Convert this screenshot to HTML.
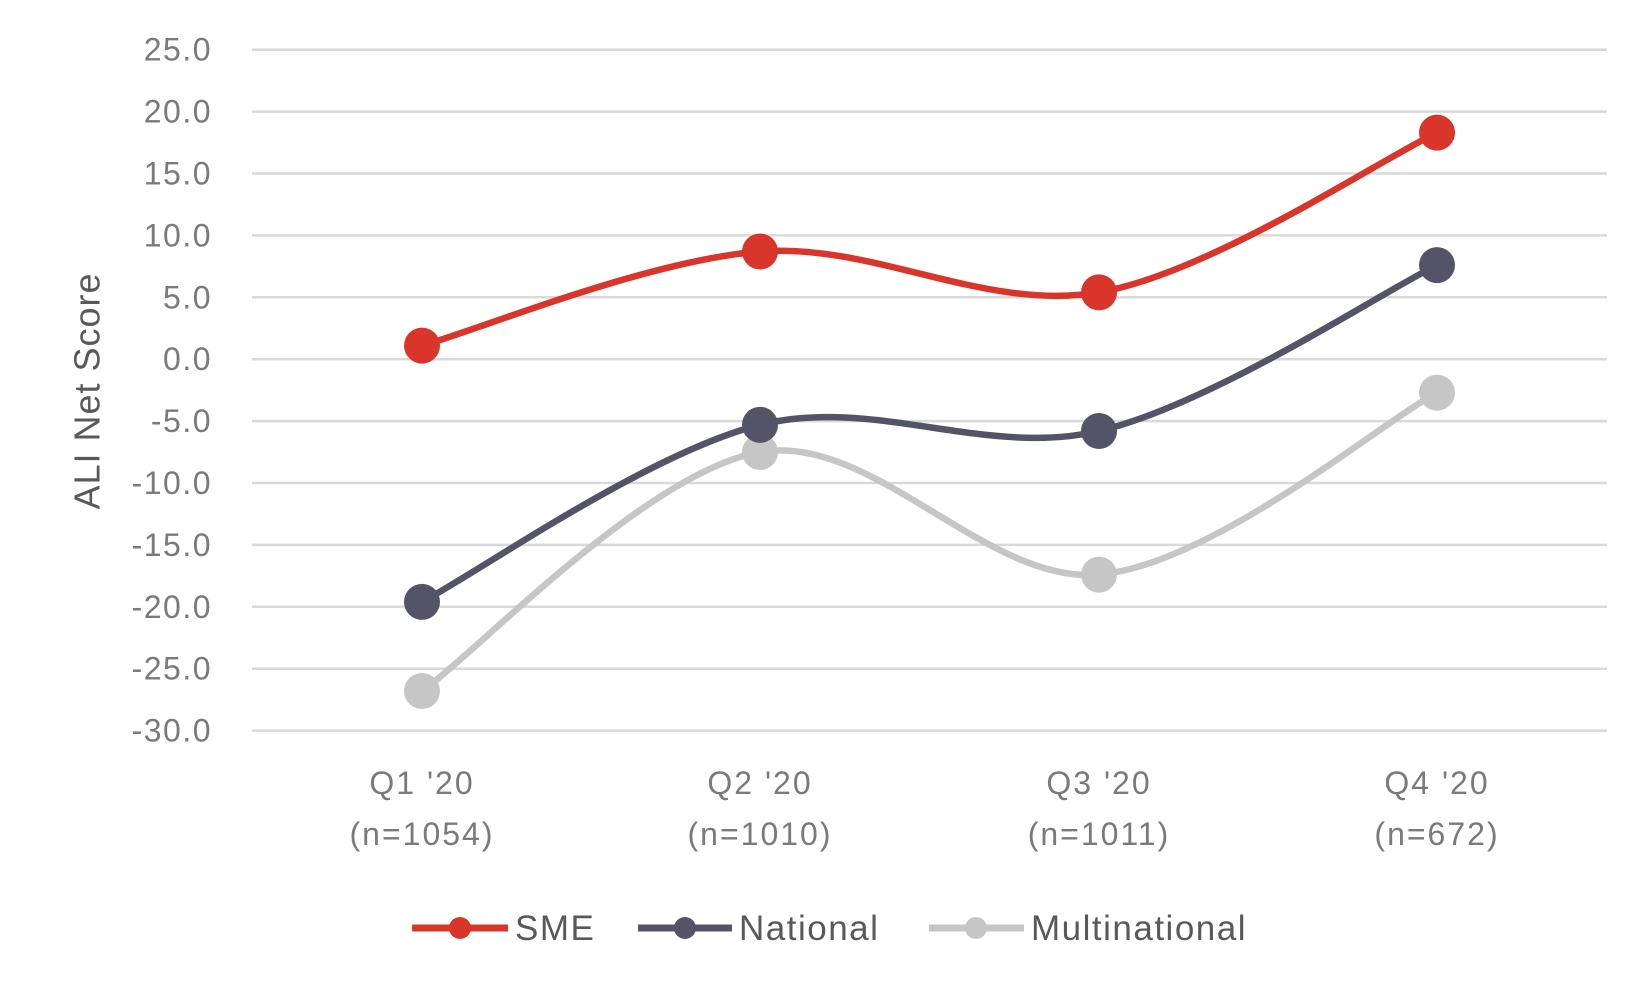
<!DOCTYPE html>
<html><head><meta charset="utf-8"><style>
body{margin:0;background:#fff;width:1650px;height:990px;overflow:hidden}
svg text{font-family:"Liberation Sans",sans-serif;fill:#7a7a7a}
</style></head><body>
<svg id="s" width="1650" height="990" xmlns="http://www.w3.org/2000/svg">
<g id="grid"></g>
<text x="90" y="391" font-size="36" letter-spacing="1" transform="rotate(-90 90 391)" text-anchor="middle" dominant-baseline="middle" style="fill:#595959">ALI Net Score</text>
<g font-size="32" letter-spacing="2" text-anchor="middle">
<text x="422" y="794">Q1 '20</text><text x="422" y="845">(n=1054)</text>
<text x="760" y="794">Q2 '20</text><text x="760" y="845">(n=1010)</text>
<text x="1099" y="794">Q3 '20</text><text x="1099" y="845">(n=1011)</text>
<text x="1437" y="794">Q4 '20</text><text x="1437" y="845">(n=672)</text>
</g>
<g id="series"></g>
<g font-size="35" letter-spacing="1.5">
<line x1="412" y1="928" x2="508" y2="928" stroke="#d9352b" stroke-width="7"/><circle cx="460" cy="928" r="11" fill="#d9352b"/><text x="515" y="940" style="fill:#595959">SME</text>
<line x1="638" y1="928" x2="732" y2="928" stroke="#535467" stroke-width="7"/><circle cx="685" cy="928" r="11" fill="#535467"/><text x="739" y="940" style="fill:#595959">National</text>
<line x1="929" y1="928" x2="1024" y2="928" stroke="#c6c6c6" stroke-width="7"/><circle cx="976" cy="928" r="11" fill="#c6c6c6"/><text x="1031" y="940" style="fill:#595959">Multinational</text>
</g>
</svg>
<script>
function y(v){return 49.7+(25-v)*12.38;}
var g=document.getElementById("grid"),h="";
for(var v=25;v>=-30;v-=5){var yy=y(v);h+='<line x1="252" x2="1607" y1="'+yy+'" y2="'+yy+'" stroke="#d9d9d9" stroke-width="2.5"/>';
h+='<text x="212" y="'+(yy+11)+'" font-size="32" letter-spacing="1.5" text-anchor="end">'+v.toFixed(1)+'</text>';}
g.innerHTML=h;
var xs=[422,760,1099,1437];
var data=[[[-26.8,-7.5,-17.4,-2.7],"#c6c6c6"],[[-19.6,-5.3,-5.8,7.6],"#535467"],[[1.1,8.7,5.4,18.3],"#d9352b"]];
var s="";
data.forEach(function(d){var p=d[0].map(function(v,i){return [xs[i],y(v)];});
var path="M"+p[0][0]+","+p[0][1];
for(var i=0;i<3;i++){var p0=p[Math.max(i-1,0)],p1=p[i],p2=p[i+1],p3=p[Math.min(i+2,3)];
var c1=[p1[0]+(p2[0]-p0[0])/6,p1[1]+(p2[1]-p0[1])/6],c2=[p2[0]-(p3[0]-p1[0])/6,p2[1]-(p3[1]-p1[1])/6];
path+=" C"+c1+" "+c2+" "+p2;}
s+='<path d="'+path+'" fill="none" stroke="'+d[1]+'" stroke-width="6.5"/>';
p.forEach(function(q){s+='<circle cx="'+q[0]+'" cy="'+q[1]+'" r="18" fill="'+d[1]+'"/>';});});
document.getElementById("series").innerHTML=s;
</script>
</body></html>
